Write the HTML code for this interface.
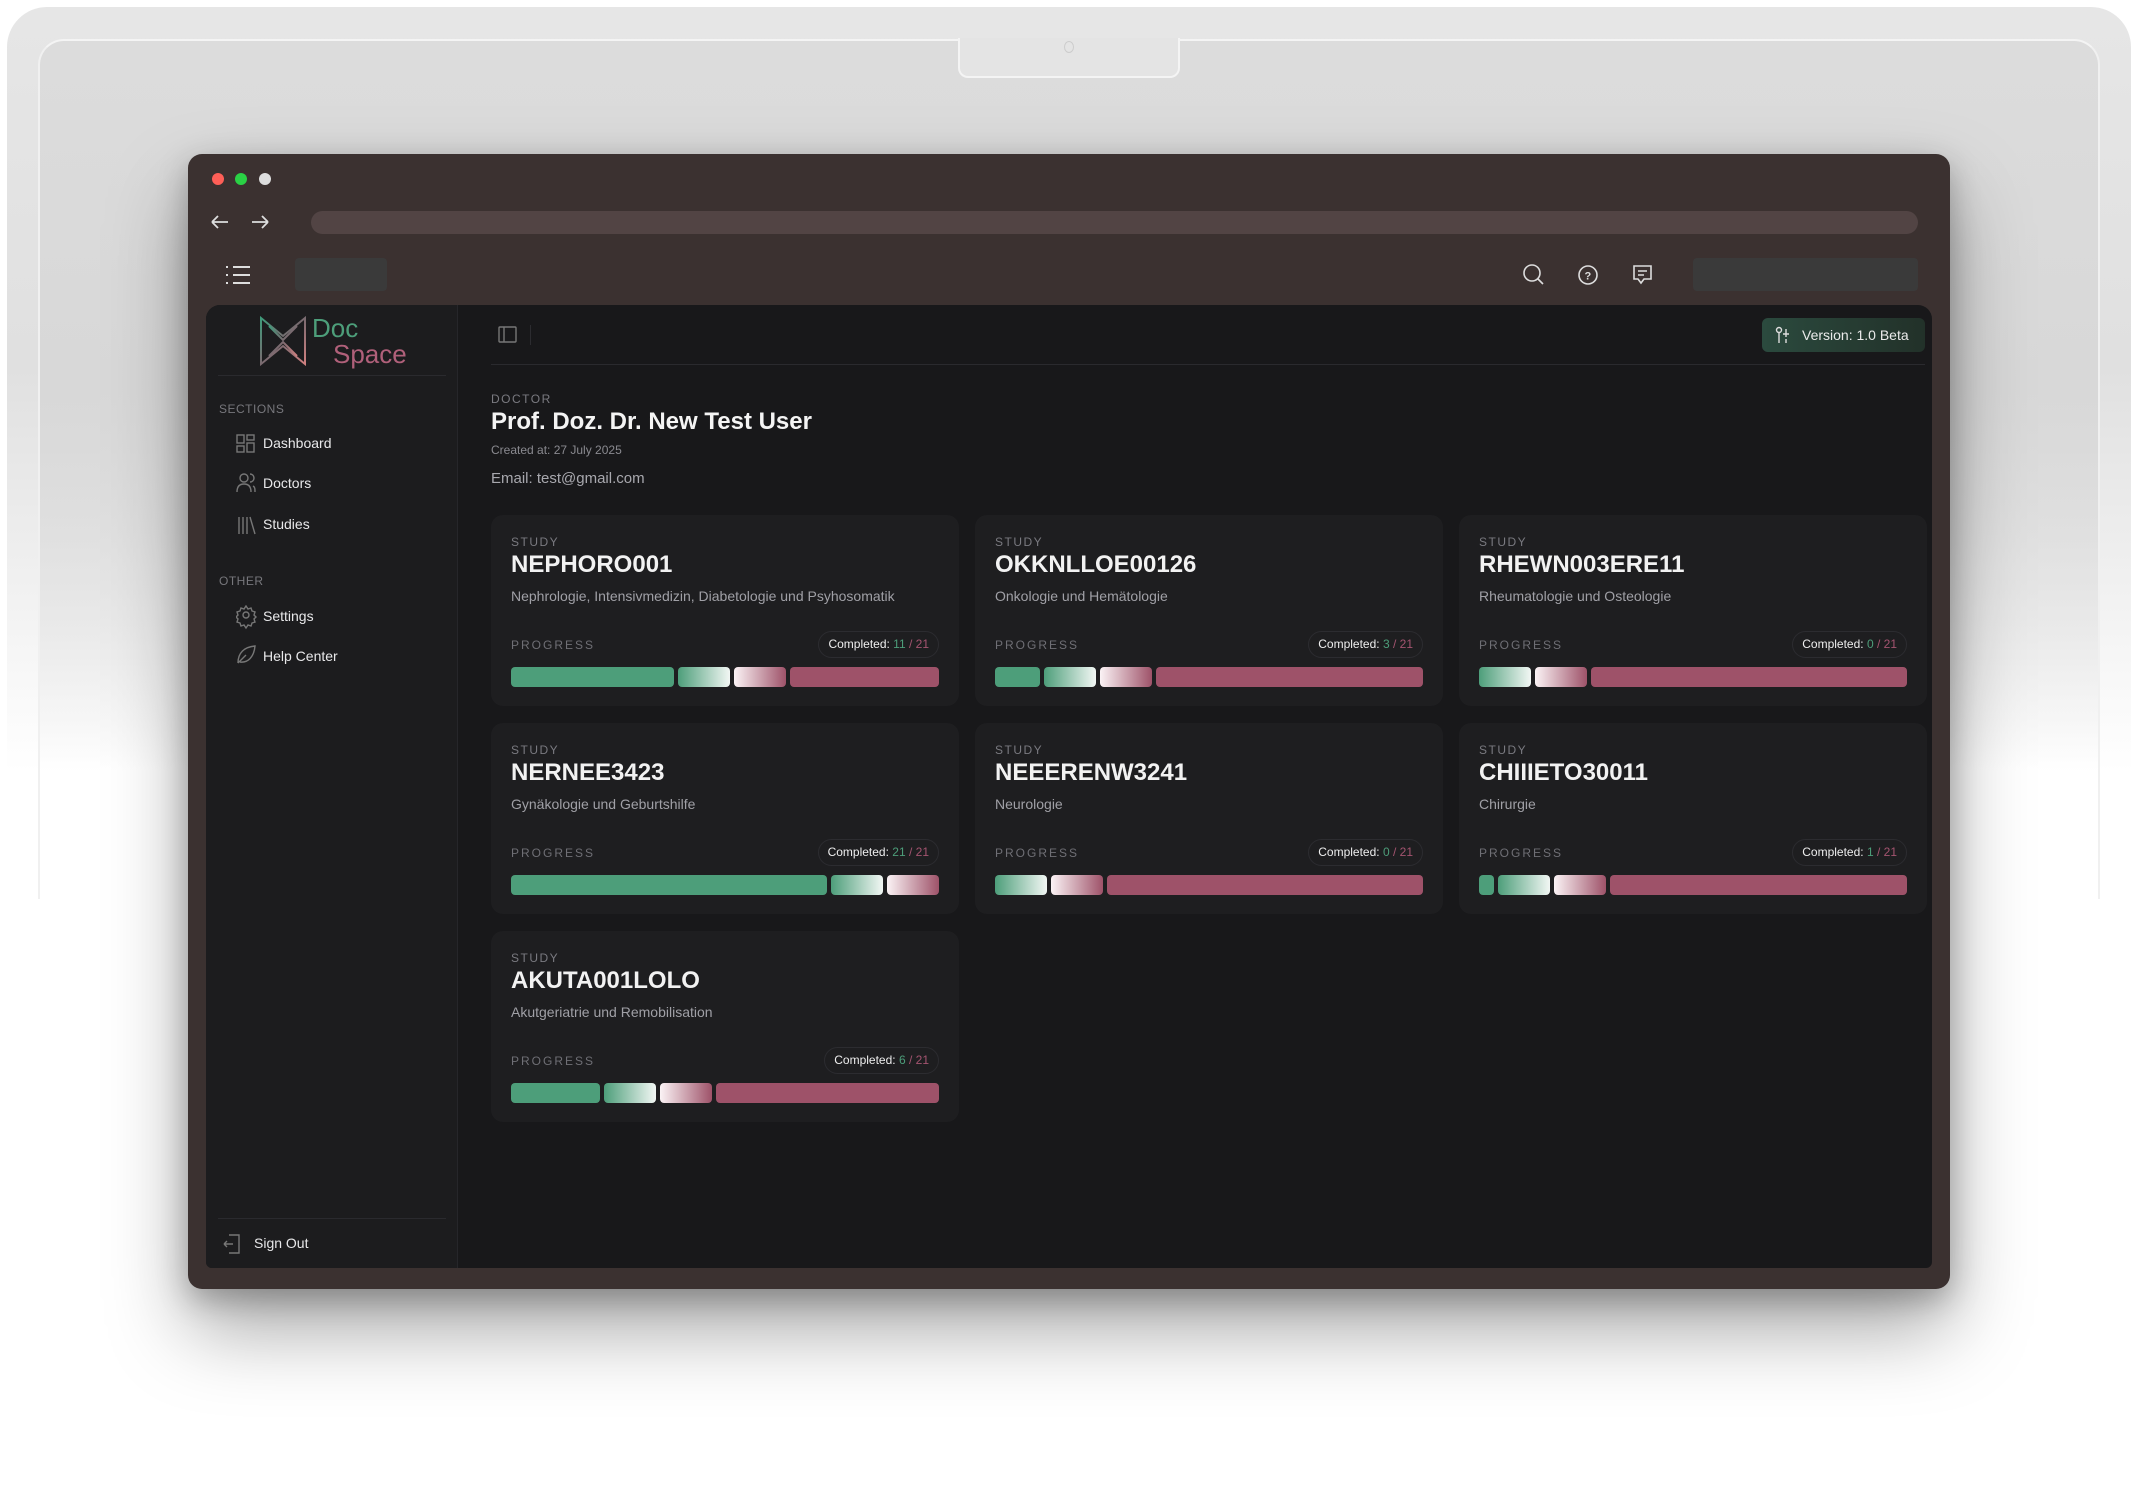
<!DOCTYPE html>
<html><head><meta charset="utf-8"><style>
*{box-sizing:border-box;margin:0;padding:0}
body{width:2138px;height:1504px;background:#fff;position:relative;overflow:hidden;font-family:"Liberation Sans",sans-serif}
.abs{position:absolute}
.lid{left:7px;top:7px;width:2124px;height:900px;border-radius:40px 40px 0 0;background:linear-gradient(#e6e6e6 0%,#e0e0e0 40%,rgba(255,255,255,0) 85%);}
.bez{left:38px;top:39px;width:2062px;height:860px;border-radius:26px 26px 0 0;border-top:2px solid #f4f4f4;border-left:2px solid #f0f0f0;border-right:2px solid #f0f0f0;background:linear-gradient(#dcdcdc 0%,#d8d8d8 40%,rgba(255,255,255,0) 85%)}
.notch{left:958px;top:38px;width:222px;height:40px;background:#e4e4e4;border:2px solid #f4f4f4;border-top:none;border-radius:0 0 10px 10px}
.win{left:188px;top:154px;width:1762px;height:1135px;background:#3b3130;border-radius:14px;box-shadow:0 40px 80px rgba(0,0,0,.35),0 10px 30px rgba(0,0,0,.25)}
.dot{width:12px;height:12px;border-radius:50%;top:173px}
.url{left:311px;top:211px;width:1607px;height:23px;border-radius:12px;background:#524444}
.panel{left:206px;top:305px;width:1726px;height:963px;background:#18181a;border-radius:14px 14px 6px 6px;overflow:hidden}
.side{left:0;top:0;width:252px;height:963px;background:#1c1c1e;border-right:1px solid #26262a}
.lbl{color:#77777c;font-size:12px;letter-spacing:.5px}
.nav{color:#e8e8ea;font-size:14px;left:57px}
.card{position:absolute;width:468px;height:191px;background:#1e1e20;border-radius:12px}
.card .s{position:absolute;left:20px;top:20px;color:#7a7a80;font-size:12px;letter-spacing:1.5px}
.card .t{position:absolute;left:20px;top:36px;color:#f2f2f2;font-size:24px;font-weight:bold}
.card .d{position:absolute;left:20px;top:73px;color:#a0a0a6;font-size:14px}
.card .p{position:absolute;left:20px;top:123px;color:#6f6f75;font-size:12px;letter-spacing:2px}
.card .b{position:absolute;right:20px;top:116px;height:27px;border:1px solid #2c2c30;border-radius:14px;padding:0 9px;line-height:25px;color:#eee;font-size:12px}
.g{color:#4d9e7a}.r{color:#a45470}
.bar{position:absolute;left:20px;right:20px;top:152px;height:20px;display:flex;gap:4px}
.bar div{height:20px;border-radius:4px}
.gs{background:#4d9e7a}.pk{background:#9e5269}
.g1{width:52px;flex:none;background:linear-gradient(90deg,#4d9e7a,#f2f7f4)}
.g2{width:52px;flex:none;background:linear-gradient(90deg,#fbf3f5,#9e5269)}
svg{position:absolute}
</style></head><body>
<div class="abs lid"></div>
<div class="abs bez"></div>
<div class="abs notch"></div>
<div class="abs" style="left:1064px;top:41px;width:10px;height:12px;border:1px solid #ccc;border-radius:50%"></div>
<div class="abs win"></div>
<div class="abs dot" style="left:212px;background:#fe5f57"></div>
<div class="abs dot" style="left:235px;background:#2ad145"></div>
<div class="abs dot" style="left:259px;background:#ddd"></div>
<svg style="left:210px;top:212px" width="60" height="20" fill="none" stroke="#ddd" stroke-width="1.8"><path d="M2 10h16M2 10l6-6M2 10l6 6M42 10h16M58 10l-6-6M58 10l-6 6"/></svg>
<div class="abs url"></div>
<svg style="left:224px;top:264px" width="28" height="22" fill="none" stroke="#ddd" stroke-width="2"><path d="M9 3h17M9 11h17M9 19h17M2 3h2M2 11h2M2 19h2"/></svg>
<div class="abs" style="left:295px;top:258px;width:92px;height:33px;background:#3a3a3a;border-radius:4px"></div>
<svg style="left:1522px;top:263px" width="140" height="24" fill="none" stroke="#ddd" stroke-width="1.6"><circle cx="10" cy="10" r="8"/><path d="M16 16l5 5"/><circle cx="66" cy="12" r="9"/><text x="62.5" y="16.5" font-size="11" fill="#ddd" stroke="none" font-family="Liberation Sans" font-weight="bold">?</text><path d="M112 3h17v13h-7l-3 4-3-4h-4zM116 8h9M116 12h6"/></svg>
<div class="abs" style="left:1693px;top:258px;width:225px;height:33px;background:#3a3a3a;border-radius:4px"></div>

<div class="abs panel">
 <div class="abs side">
  <svg style="left:53px;top:11px" width="48" height="50" fill="none" stroke-width="2"><path d="M2 2l22 18 22-18v46L24 30 2 48z" stroke="url(#lg)"/><path d="M10 10l14 14 14-14M10 40l14-14 14 14" stroke="url(#lg)"/><defs><linearGradient id="lg" x1="0" y1="0" x2="1" y2="1"><stop offset="0" stop-color="#3f9a7a"/><stop offset=".5" stop-color="#7a6a70"/><stop offset="1" stop-color="#d08080"/></linearGradient></defs></svg>
  <div class="abs" style="left:106px;top:8px;color:#4d9e7a;font-size:26px">Doc</div>
  <div class="abs" style="left:127px;top:34px;color:#b0607a;font-size:26px">Space</div>
  <div class="abs" style="left:12px;top:70px;width:228px;height:1px;background:#2a2a2e"></div>
  <div class="abs lbl" style="left:13px;top:97px">SECTIONS</div>
  <svg style="left:30px;top:129px" width="20" height="120" fill="none" stroke="#777" stroke-width="1.4"><rect x="1" y="1" width="7" height="8"/><rect x="11" y="1" width="7" height="5"/><rect x="1" y="12" width="7" height="6"/><rect x="11" y="9" width="7" height="9"/><circle cx="8" cy="44" r="4"/><path d="M1 58c0-6 3-8 7-8s7 2 7 8M14 40a4 4 0 010 8M17 52c2 1 2 3 2 6"/><path d="M3 83v17M7 83v17M11 83v17M14 83l5 17"/></svg>
  <div class="abs nav" style="top:130px">Dashboard</div>
  <div class="abs nav" style="top:170px">Doctors</div>
  <div class="abs nav" style="top:211px">Studies</div>
  <div class="abs lbl" style="left:13px;top:269px">OTHER</div>
  <svg style="left:30px;top:300px" width="22" height="60" fill="none" stroke="#777" stroke-width="1.4"><circle cx="10" cy="10" r="3"/><path d="M10 1l2 3 3-1 1 3 3 1-1 3 2 2-2 2 1 3-3 1-1 3-3-1-2 3-2-3-3 1-1-3-3-1 1-3-2-2 2-2-1-3 3-1 1-3 3 1z"/><path d="M2 58c0-10 6-16 17-17-1 11-7 17-15 16M2 58l8-8"/></svg>
  <div class="abs nav" style="top:303px">Settings</div>
  <div class="abs nav" style="top:343px">Help Center</div>
  <div class="abs" style="left:12px;top:913px;width:228px;height:1px;background:#2a2a2e"></div>
  <svg style="left:17px;top:928px" width="20" height="22" fill="none" stroke="#777" stroke-width="1.4"><path d="M6 2h10v18H6M1 11h9M1 11l3-3M1 11l3 3"/></svg>
  <div class="abs nav" style="left:48px;top:930px">Sign Out</div>
 </div>
 <svg style="left:292px;top:21px" width="20" height="18" fill="none" stroke="#777" stroke-width="1.4"><rect x="1" y="1" width="17" height="15" rx="1"/><path d="M6 1v15"/></svg>
 <div class="abs" style="left:324px;top:20px;width:1px;height:20px;background:#2c2c30"></div>
 <div class="abs" style="left:1556px;top:13px;width:163px;height:34px;border-radius:6px;background:linear-gradient(90deg,#2b4a3e,#223129);color:#eaeaea;font-size:14px;line-height:34px;padding-left:40px">Version: 1.0 Beta</div>
 <svg style="left:1569px;top:21px" width="16" height="18" fill="none" stroke="#ddd" stroke-width="1.4"><circle cx="4" cy="4" r="2.5"/><path d="M4 7v10M11 3v8M8 8h6M11 13v4"/></svg>
 <div class="abs" style="left:285px;top:59px;width:1434px;height:1px;background:#2a2a2e"></div>
 <div class="abs" style="left:285px;top:87px;color:#7a7a80;font-size:12px;letter-spacing:1.5px">DOCTOR</div>
 <div class="abs" style="left:285px;top:103px;color:#f4f4f4;font-size:24px;font-weight:bold">Prof. Doz. Dr. New Test User</div>
 <div class="abs" style="left:285px;top:138px;color:#8a8a90;font-size:12px">Created at: 27 July 2025</div>
 <div class="abs" style="left:285px;top:165px;color:#a8a8ae;font-size:15px">Email: test@gmail.com</div>

 <div class="card" style="left:285px;top:210px"><div class="s">STUDY</div><div class="t">NEPHORO001</div><div class="d">Nephrologie, Intensivmedizin, Diabetologie und Psyhosomatik</div><div class="p">PROGRESS</div><div class="b">Completed: <span class="g">11</span> <span class="r">/ 21</span></div><div class="bar"><div class="gs" style="flex:11"></div><div class="g1"></div><div class="g2"></div><div class="pk" style="flex:10"></div></div></div>
 <div class="card" style="left:769px;top:210px"><div class="s">STUDY</div><div class="t">OKKNLLOE00126</div><div class="d">Onkologie und Hemätologie</div><div class="p">PROGRESS</div><div class="b">Completed: <span class="g">3</span> <span class="r">/ 21</span></div><div class="bar"><div class="gs" style="flex:3"></div><div class="g1"></div><div class="g2"></div><div class="pk" style="flex:18"></div></div></div>
 <div class="card" style="left:1253px;top:210px"><div class="s">STUDY</div><div class="t">RHEWN003ERE11</div><div class="d">Rheumatologie und Osteologie</div><div class="p">PROGRESS</div><div class="b">Completed: <span class="g">0</span> <span class="r">/ 21</span></div><div class="bar"><div class="g1"></div><div class="g2"></div><div class="pk" style="flex:1"></div></div></div>
 <div class="card" style="left:285px;top:418px"><div class="s">STUDY</div><div class="t">NERNEE3423</div><div class="d">Gynäkologie und Geburtshilfe</div><div class="p">PROGRESS</div><div class="b">Completed: <span class="g">21</span> <span class="r">/ 21</span></div><div class="bar"><div class="gs" style="flex:1"></div><div class="g1"></div><div class="g2"></div></div></div>
 <div class="card" style="left:769px;top:418px"><div class="s">STUDY</div><div class="t">NEEERENW3241</div><div class="d">Neurologie</div><div class="p">PROGRESS</div><div class="b">Completed: <span class="g">0</span> <span class="r">/ 21</span></div><div class="bar"><div class="g1"></div><div class="g2"></div><div class="pk" style="flex:1"></div></div></div>
 <div class="card" style="left:1253px;top:418px"><div class="s">STUDY</div><div class="t">CHIIIETO30011</div><div class="d">Chirurgie</div><div class="p">PROGRESS</div><div class="b">Completed: <span class="g">1</span> <span class="r">/ 21</span></div><div class="bar"><div class="gs" style="flex:1"></div><div class="g1"></div><div class="g2"></div><div class="pk" style="flex:20"></div></div></div>
 <div class="card" style="left:285px;top:626px"><div class="s">STUDY</div><div class="t">AKUTA001LOLO</div><div class="d">Akutgeriatrie und Remobilisation</div><div class="p">PROGRESS</div><div class="b">Completed: <span class="g">6</span> <span class="r">/ 21</span></div><div class="bar"><div class="gs" style="flex:6"></div><div class="g1"></div><div class="g2"></div><div class="pk" style="flex:15"></div></div></div>
</div>
</body></html>
